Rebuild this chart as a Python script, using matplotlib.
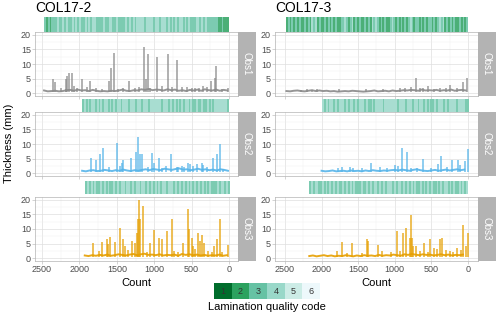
import numpy as np
import matplotlib
matplotlib.use("Agg")
import matplotlib.pyplot as plt
from matplotlib.colors import ListedColormap, to_rgb
from matplotlib.patches import Rectangle
from matplotlib.ticker import MultipleLocator

plt.rcParams["font.family"] = ["Liberation Sans", "DejaVu Sans"]

# -----------------------------------------------------------------------------
# Data
# -----------------------------------------------------------------------------
cores = ["COL17-2", "COL17-3"]
observers = ["Obs1", "Obs2", "Obs3"]
quality_codes = ["1", "2", "3", "4", "5", "6"]
quality_colors = ["#006d2c", "#2ca25f", "#66c2a4", "#99d8c9", "#ccece6", "#edf8fb"]
line_colors = {"Obs1": "#8a8a8a", "Obs2": "#56b4e9", "Obs3": "#e69f00"}
x_ticks = [2500, 2000, 1500, 1000, 500, 0]
y_ticks = [0, 5, 10, 15, 20]

# baseline thickness sampled every BASE_STEP laminae, starting from the oldest count
BASE_STEP = 50

c2_obs1_start = 2473
c2_obs1_base = [0.9, 0.6, 0.7, 0.8, 0.6, 0.7, 1.0, 1.1, 0.8, 1.2,
                0.9, 1.0, 0.7, 1.1, 0.8, 0.6, 0.7, 0.6, 0.8, 0.7,
                0.9, 1.2, 0.8, 0.7, 1.0, 0.9, 1.3, 1.1, 1.4, 1.0,
                1.2, 1.1, 0.9, 1.3, 1.0, 1.2, 0.8, 1.0, 0.7, 1.1,
                0.9, 1.2, 0.8, 1.3, 1.0, 0.9, 1.2, 0.8, 1.1, 0.9]
c2_obs1_peak_x = [2352, 2321, 2250, 2183, 2174, 2161, 2138, 2098, 2076, 2030,
                  1964, 1897, 1861, 1772, 1700, 1611, 1576, 1536, 1482, 1415,
                  1339, 1263, 1200, 1134, 1116, 1089, 1050, 969, 902, 812,
                  760, 701, 634, 560, 500, 450, 406, 344, 290, 246, 192, 174, 98, 18]
c2_obs1_peak_y = [4.9, 3.8, 1.6, 1.5, 4.7, 5.8, 6.9, 6.9, 2.3, 1.7,
                  4.7, 2.1, 4.3, 1.8, 1.5, 4.3, 8.6, 13.8, 1.5, 1.8,
                  4.0, 1.8, 2.0, 15.8, 4.7, 13.5, 1.9, 12.3, 2.6, 13.5,
                  2.0, 11.4, 2.1, 2.2, 1.8, 1.7, 1.8, 2.3, 2.0, 4.3, 5.3, 9.3, 1.5, 1.8]

c3_obs1_start = 2480
c3_obs1_base = [0.7, 0.6, 0.8, 0.9, 0.7, 0.6, 0.8, 1.0, 0.7, 0.9,
                0.7, 0.8, 0.6, 0.7, 0.5, 0.6, 0.7, 0.6, 0.8, 0.7,
                0.6, 0.5, 0.6, 0.7, 0.9, 0.6, 0.7, 0.8, 0.6, 0.9,
                0.7, 0.8, 1.0, 0.9, 1.1, 1.0, 0.8, 1.2, 0.9, 1.0,
                0.9, 1.1, 0.8, 1.0, 0.9, 1.2, 0.8, 1.0, 1.1, 0.9]
c3_obs1_peak_x = [2280, 2200, 2130, 2060, 1760, 1390, 1160, 930, 860, 782,
                  714, 660, 614, 545, 470, 386, 300, 241, 150, 68, 9]
c3_obs1_peak_y = [1.2, 1.4, 1.1, 1.3, 1.3, 1.3, 1.3, 1.6, 1.8, 2.0,
                  5.1, 1.6, 1.8, 2.3, 1.5, 1.8, 1.6, 2.9, 1.6, 3.8, 5.1]

c2_obs2_start = 1964
c2_obs2_base = [0.8, 0.6, 0.9, 1.0, 0.7, 0.8, 1.1, 0.9, 0.7, 1.0,
                0.8, 1.2, 0.9, 0.7, 1.0, 0.8, 1.1, 1.3, 1.0, 1.4,
                1.2, 1.0, 1.5, 1.3, 1.1, 1.4, 1.6, 1.2, 1.3, 1.0,
                1.2, 1.5, 1.1, 1.3, 1.0, 1.2, 0.9, 1.3, 1.1, 0.8]
c2_obs2_peak_x = [1848, 1772, 1719, 1683, 1600, 1504, 1451, 1437, 1415, 1317,
                  1250, 1219, 1192, 1170, 1080, 1036, 1004, 937, 900, 848,
                  781, 700, 679, 634, 600, 545, 522, 480, 433, 366,
                  344, 300, 210, 156, 125, 76]
c2_obs2_peak_y = [5.3, 4.5, 6.4, 8.5, 2.0, 10.5, 2.4, 3.4, 4.6, 5.3,
                  7.4, 12.4, 6.4, 6.7, 2.1, 7.0, 3.4, 5.1, 1.9, 2.4,
                  6.7, 2.2, 2.1, 2.4, 2.0, 3.6, 3.2, 2.5, 3.0, 3.6,
                  2.8, 2.1, 5.1, 6.7, 10.1, 1.3]

c3_obs2_start = 2000
c3_obs2_base = [0.8, 0.6, 0.7, 0.9, 0.6, 0.7, 0.8, 0.6, 0.9, 0.7,
                0.8, 0.6, 0.9, 0.7, 1.0, 0.8, 0.7, 0.9, 0.8, 1.0,
                1.1, 0.9, 1.2, 1.0, 0.8, 1.1, 1.3, 1.0, 0.8, 0.7,
                0.9, 1.1, 0.8, 1.0, 1.2, 0.9, 1.1, 1.3, 1.0, 1.2]
c3_obs2_peak_x = [1773, 1727, 1614, 1568, 1450, 1318, 1204, 1100, 1000, 955,
                  895, 832, 782, 700, 614, 500, 409, 373, 280, 214,
                  136, 105, 45, 0]
c3_obs2_peak_y = [1.8, 2.1, 2.1, 1.8, 1.6, 3.6, 2.1, 1.9, 2.8, 2.4,
                  8.5, 7.4, 1.8, 1.7, 4.9, 1.6, 3.0, 5.9, 2.0, 4.5,
                  4.5, 2.8, 4.1, 8.2]

c2_obs3_start = 1929
c2_obs3_base = [0.9, 0.7, 1.0, 0.8, 1.1, 0.9, 1.2, 0.8, 1.0, 1.3,
                1.1, 0.9, 1.2, 1.4, 1.0, 1.3, 1.5, 1.1, 1.2, 1.0,
                1.3, 0.9, 1.1, 1.0, 1.2, 0.8, 1.4, 1.1, 1.3, 1.0,
                1.2, 0.9, 1.1, 0.8, 1.0, 0.9, 1.2, 0.8, 1.0]
c2_obs3_peak_x = [1817, 1740, 1692, 1638, 1616, 1594, 1527, 1460, 1415, 1393,
                  1350, 1295, 1259, 1237, 1219, 1205, 1187, 1147, 1100, 1058,
                  1004, 942, 902, 835, 768, 732, 680, 620, 554, 531,
                  500, 478, 450, 411, 388, 362, 335, 277, 230, 196,
                  156, 121, 89, 9]
c2_obs3_peak_y = [5.1, 2.5, 5.6, 6.7, 4.7, 7.4, 5.5, 10.5, 6.4, 4.1,
                  2.8, 5.9, 5.3, 8.7, 13.3, 20.0, 13.6, 18.0, 2.2, 5.1,
                  9.5, 7.0, 6.4, 9.3, 13.3, 2.4, 2.0, 5.1, 16.8, 10.1,
                  7.0, 4.1, 3.0, 8.5, 5.9, 7.8, 5.3, 2.4, 2.2, 4.1,
                  6.4, 13.3, 2.1, 4.4]

c3_obs3_start = 2168
c3_obs3_base = [0.7, 0.9, 0.6, 0.8, 1.0, 0.7, 0.9, 0.6, 0.8, 0.7,
                1.0, 0.8, 0.6, 0.9, 0.7, 1.0, 0.8, 0.9, 0.7, 1.1,
                0.8, 1.0, 0.9, 1.2, 1.0, 0.8, 1.3, 1.1, 1.4, 1.2,
                1.0, 1.3, 1.1, 1.2, 0.9, 1.1, 1.3, 1.0, 1.2, 0.9,
                1.1, 1.0, 1.2]
c3_obs3_peak_x = [1786, 1714, 1650, 1591, 1450, 1377, 1364, 1227, 1168, 1050,
                  968, 923, 886, 850, 795, 782, 764, 750, 705, 650,
                  605, 550, 514, 464, 423, 386, 359, 295, 250, 200,
                  145, 100, 68, 32, 0]
c3_obs3_peak_y = [2.4, 5.6, 1.6, 5.3, 1.8, 6.7, 5.9, 4.4, 2.4, 2.0,
                  9.3, 2.4, 8.5, 10.5, 7.0, 14.7, 7.0, 4.1, 4.1, 2.5,
                  5.1, 2.2, 6.7, 3.6, 3.0, 6.4, 7.0, 2.8, 2.4, 2.0,
                  3.6, 2.8, 11.4, 4.1, 8.5]

# lamination quality code, oldest -> youngest, in equal bins from start count to 0
c2_obs1_qc = ("3232333433434334343433434344333343344334333343434344443444434434443434"
              "343443434333443434333333223222")
c3_obs1_qc = ("2323232322323243423223232323223343234232322323243432323223432323232343"
              "233232323323234342323232232323")
c2_obs2_qc = ("3434344343434434343443444344434434443444444344434343434344343343343343"
              "4344444443")
c3_obs2_qc = ("4343443434443434434344434334344443444444434443444344344343433434443434"
              "4443444433")
c2_obs3_qc = ("3434343343434334343443443434434434343434344344434343434343434343434333"
              "4344343")
c3_obs3_qc = ("3434433434343434334343434333433434344343434443434434343434334343434334"
              "3434434343343434")

panels = {
    ("COL17-2", "Obs1"): (c2_obs1_start, c2_obs1_base, c2_obs1_peak_x, c2_obs1_peak_y, c2_obs1_qc),
    ("COL17-3", "Obs1"): (c3_obs1_start, c3_obs1_base, c3_obs1_peak_x, c3_obs1_peak_y, c3_obs1_qc),
    ("COL17-2", "Obs2"): (c2_obs2_start, c2_obs2_base, c2_obs2_peak_x, c2_obs2_peak_y, c2_obs2_qc),
    ("COL17-3", "Obs2"): (c3_obs2_start, c3_obs2_base, c3_obs2_peak_x, c3_obs2_peak_y, c3_obs2_qc),
    ("COL17-2", "Obs3"): (c2_obs3_start, c2_obs3_base, c2_obs3_peak_x, c2_obs3_peak_y, c2_obs3_qc),
    ("COL17-3", "Obs3"): (c3_obs3_start, c3_obs3_base, c3_obs3_peak_x, c3_obs3_peak_y, c3_obs3_qc),
}

# -----------------------------------------------------------------------------
# Layout (pixel boxes on a 500 x 316 canvas)
# -----------------------------------------------------------------------------
W, H = 500, 316
col_px = {"COL17-2": (35, 238), "COL17-3": (275, 478)}
col_xlim = {"COL17-2": (2594, -120), "COL17-3": (2636, -137)}
row_px = {"Obs1": (32, 96), "Obs2": (112, 176), "Obs3": (197, 261)}
strip_px = {"Obs1": (17, 32), "Obs2": (99, 112.5), "Obs3": (180.5, 194)}

fig = plt.figure(figsize=(W / 100, H / 100), dpi=100)


def px_axes(left, top, right, bottom):
    return fig.add_axes([left / W, 1 - bottom / H, (right - left) / W, (bottom - top) / H])


# strip colours: palette slightly washed out toward white (drawn semi-transparent in the original)
strip_colors = [tuple(0.85 * np.array(to_rgb(c)) + 0.15) for c in quality_colors]
qc_cmap = ListedColormap(strip_colors)

for core in cores:
    x0, x1 = col_px[core]
    for obs in observers:
        start, base, peak_x, peak_y, qc = panels[(core, obs)]
        top, bottom = row_px[obs]
        ax = px_axes(x0, top, x1, bottom)

        base_x = start - BASE_STEP * np.arange(len(base))
        ax.plot(base_x, base, color=line_colors[obs], lw=1.4, alpha=0.9,
                solid_joinstyle="miter", zorder=3)
        ax.vlines(peak_x, 0.4, peak_y, color=line_colors[obs], lw=1.1, alpha=0.85, zorder=3)

        ax.set_xlim(*col_xlim[core])
        ax.set_ylim(-1, 21)
        ax.set_xticks(x_ticks)
        ax.set_yticks(y_ticks)
        ax.xaxis.set_minor_locator(MultipleLocator(250))
        ax.yaxis.set_minor_locator(MultipleLocator(2.5))
        ax.grid(which="major", color="#dedede", lw=0.5)
        ax.grid(which="minor", color="#f0f0f0", lw=0.3)
        ax.set_axisbelow(True)
        for sp in ax.spines.values():
            sp.set_color("#b3b3b3")
            sp.set_linewidth(0.5)
        ax.tick_params(which="major", length=2, width=0.4, color="#b3b3b3",
                       labelsize=6.5, labelcolor="#4d4d4d", pad=1)
        ax.tick_params(which="minor", length=0)
        if obs != "Obs3":
            ax.tick_params(axis="x", labelbottom=False)

        # facet label on the right
        sax = px_axes(x1, top, x1 + 18, bottom)
        sax.set_xticks([])
        sax.set_yticks([])
        sax.set_facecolor("#b3b3b3")
        for sp in sax.spines.values():
            sp.set_visible(False)
        sax.text(0.5, 0.5, obs, rotation=-90, ha="center", va="center",
                 color="white", fontsize=7, transform=sax.transAxes)

        # lamination quality strip above the panel
        s_top, s_bottom = strip_px[obs]
        qax = px_axes(x0, s_top, x1, s_bottom)
        codes = np.array([[int(c) for c in qc]])
        qax.imshow(codes, cmap=qc_cmap, vmin=0.5, vmax=6.5, aspect="auto",
                   interpolation="nearest", extent=(start, 0, 0, 1))
        qax.set_xlim(*col_xlim[core])
        qax.set_ylim(0, 1)
        qax.axis("off")

    fig.text(x0 / W, 1 - 8 / H, core, ha="left", va="center", fontsize=10)
    fig.text((x0 + x1) / 2 / W, 1 - 283 / H, "Count", ha="center", va="center", fontsize=8)

fig.text(9 / W, 1 - 143 / H, "Thickness (mm)", rotation=90, ha="center", va="center", fontsize=8)

# legend for lamination quality code
lax = px_axes(214, 283, 320, 299)
for i, (code, col) in enumerate(zip(quality_codes, quality_colors)):
    lax.add_patch(Rectangle((i, 0), 1, 1, facecolor=col, edgecolor="none"))
    lax.text(i + 0.5, 0.5, code, ha="center", va="center", fontsize=6.5, color="#333333")
lax.set_xlim(0, len(quality_codes))
lax.set_ylim(0, 1)
lax.axis("off")
fig.text(267 / W, 1 - 307 / H, "Lamination quality code", ha="center", va="center", fontsize=8)

fig.savefig("out.png", dpi=100)
